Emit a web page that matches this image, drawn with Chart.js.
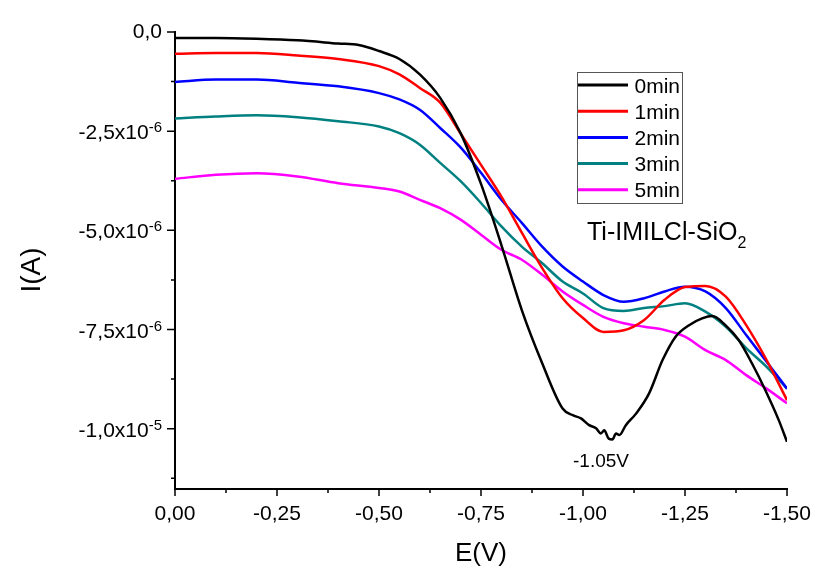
<!DOCTYPE html>
<html>
<head>
<meta charset="utf-8">
<script src="https://cdn.jsdelivr.net/npm/chart.js@4.4.1/dist/chart.umd.min.js"></script>
<style>
    html, body { margin: 0; padding: 0; background: #fff; }
    #wrap { width: 816px; height: 568px; position: relative; }
</style>
</head>
<body>
<div id="wrap"><canvas id="chart"></canvas></div>
<script>
// potentials in V, currents in microamps
const potential = [0, -0.1, -0.2, -0.3, -0.4, -0.5, -0.55, -0.6, -0.65, -0.7, -0.75, -0.8, -0.85,
    -0.9, -0.95, -1.0, -1.05, -1.1, -1.15, -1.2, -1.25, -1.3, -1.35, -1.4, -1.45, -1.5];
const current1min = [-0.55, -0.53, -0.53, -0.59, -0.68, -0.86, -1.07, -1.41, -1.78, -2.56, -3.35, -4.15, -5.06,
    -5.95, -6.71, -7.21, -7.56, -7.52, -7.26, -6.75, -6.43, -6.40, -6.67, -7.39, -8.27, -9.28];
const current2min = [-1.26, -1.20, -1.20, -1.28, -1.37, -1.54, -1.70, -1.96, -2.42, -2.91, -3.55, -4.23, -4.81,
    -5.41, -5.91, -6.29, -6.63, -6.80, -6.71, -6.54, -6.42, -6.54, -6.96, -7.64, -8.31, -8.99];
const current3min = [-2.18, -2.13, -2.10, -2.15, -2.25, -2.38, -2.55, -2.84, -3.30, -3.76, -4.31, -4.90, -5.41,
    -5.83, -6.29, -6.59, -6.96, -7.03, -6.96, -6.91, -6.84, -7.05, -7.43, -7.97, -8.44, -8.99];
const current5min = [-3.70, -3.60, -3.56, -3.64, -3.81, -3.93, -4.02, -4.23, -4.44, -4.73, -5.11, -5.49, -5.74,
    -6.12, -6.54, -6.88, -7.18, -7.34, -7.43, -7.51, -7.68, -8.02, -8.27, -8.65, -8.99, -9.36];

// the 0 min scan is noisier near its minimum, so it has its own potentials
const potential0min = [0, -0.1, -0.2, -0.3, -0.4, -0.45, -0.5, -0.55, -0.6, -0.65, -0.7, -0.75, -0.8, -0.85,
    -0.9, -0.95, -0.975, -0.995, -1.015, -1.032, -1.044, -1.052, -1.063, -1.072, -1.081, -1.089, -1.105,
    -1.13, -1.162, -1.195, -1.227, -1.26, -1.292, -1.317, -1.349, -1.382, -1.414, -1.447, -1.48, -1.5];
const current0min = [-0.15, -0.15, -0.17, -0.21, -0.29, -0.33, -0.48, -0.68, -1.07, -1.66, -2.55, -3.83, -5.37, -7.01,
    -8.35, -9.49, -9.66, -9.74, -9.91, -9.99, -10.12, -10.04, -10.25, -10.27, -10.12, -10.16, -9.91,
    -9.62, -9.11, -8.27, -7.68, -7.39, -7.22, -7.16, -7.39, -7.77, -8.35, -9.03, -9.79, -10.33];

const seriesLabels = ['0min', '1min', '2min', '3min', '5min'];
const seriesColors = ['#000000', '#ff0000', '#0000ff', '#008080', '#ff00ff'];

const xMajorTicks = [0, -0.25, -0.5, -0.75, -1.0, -1.25, -1.5];
const xMinorTicks = [-0.125, -0.375, -0.625, -0.875, -1.125, -1.375];
const xTickLabels = ['0,00', '-0,25', '-0,50', '-0,75', '-1,00', '-1,25', '-1,50'];
const yMajorTicks = [0, -2.5e-6, -5e-6, -7.5e-6, -1e-5];
const yMinorTicks = [-1.25e-6, -3.75e-6, -6.25e-6, -8.75e-6, -1.125e-5];
const yTickBases = ['0,0', '-2,5x10', '-5,0x10', '-7,5x10', '-1,0x10'];
const yTickExponents = ['', '-6', '-6', '-6', '-5'];

const FONT = '"Liberation Sans", Arial, sans-serif';

function toPoints(xs, ys) {
    return xs.map((x, i) => ({ x: x, y: ys[i] * 1e-6 }));
}

const seriesData = [
    toPoints(potential0min, current0min),
    toPoints(potential, current1min),
    toPoints(potential, current2min),
    toPoints(potential, current3min),
    toPoints(potential, current5min),
];

const decorPlugin = {
    id: 'decor',
    afterDraw(chart) {
        const ctx = chart.ctx;
        const xs = chart.scales.x;
        const ys = chart.scales.y;
        const area = chart.chartArea;

        ctx.save();
        ctx.strokeStyle = '#000';
        ctx.fillStyle = '#000';
        ctx.lineWidth = 1.5;

        // tick marks, pointing outwards
        ctx.beginPath();
        xMajorTicks.forEach((v) => {
            const px = xs.getPixelForValue(v);
            ctx.moveTo(px, area.bottom);
            ctx.lineTo(px, area.bottom + 7);
        });
        xMinorTicks.forEach((v) => {
            const px = xs.getPixelForValue(v);
            ctx.moveTo(px, area.bottom);
            ctx.lineTo(px, area.bottom + 4);
        });
        yMajorTicks.forEach((v) => {
            const py = ys.getPixelForValue(v);
            ctx.moveTo(area.left, py);
            ctx.lineTo(area.left - 8, py);
        });
        yMinorTicks.forEach((v) => {
            const py = ys.getPixelForValue(v);
            ctx.moveTo(area.left, py);
            ctx.lineTo(area.left - 4, py);
        });
        ctx.stroke();

        // x tick labels
        ctx.font = `21px ${FONT}`;
        ctx.textAlign = 'center';
        ctx.textBaseline = 'alphabetic';
        xMajorTicks.forEach((v, i) => {
            ctx.fillText(xTickLabels[i], xs.getPixelForValue(v), area.bottom + 31);
        });

        // y tick labels with raised exponents
        const labelRight = 162;
        yMajorTicks.forEach((v, i) => {
            const py = ys.getPixelForValue(v);
            ctx.textAlign = 'right';
            if (yTickExponents[i] === '') {
                ctx.font = `21px ${FONT}`;
                ctx.fillText(yTickBases[i], labelRight, py + 6);
                return;
            }
            ctx.font = `15px ${FONT}`;
            const expWidth = ctx.measureText(yTickExponents[i]).width;
            ctx.fillText(yTickExponents[i], labelRight, py + 1);
            ctx.font = `21px ${FONT}`;
            ctx.fillText(yTickBases[i], labelRight - expWidth, py + 8);
        });

        // axis titles
        ctx.font = `26px ${FONT}`;
        ctx.textAlign = 'center';
        ctx.fillText('E(V)', 481, 561);
        ctx.save();
        ctx.translate(40, 270);
        ctx.rotate(-Math.PI / 2);
        ctx.font = `28px ${FONT}`;
        ctx.fillText('I(A)', 0, 0);
        ctx.restore();

        // legend box
        const box = { left: 577, top: 72, right: 682, bottom: 203 };
        ctx.lineWidth = 1;
        ctx.strokeStyle = '#555';
        ctx.strokeRect(box.left + 0.5, box.top + 0.5, box.right - box.left, box.bottom - box.top);
        ctx.font = `21px ${FONT}`;
        ctx.textAlign = 'right';
        chart.data.datasets.forEach((ds, i) => {
            const rowY = 85 + i * 26.2;
            ctx.strokeStyle = ds.borderColor;
            ctx.lineWidth = 3;
            ctx.beginPath();
            ctx.moveTo(578, rowY);
            ctx.lineTo(628, rowY);
            ctx.stroke();
            ctx.fillStyle = '#000';
            ctx.fillText(ds.label, 680, rowY + 7.5);
        });

        // annotations
        ctx.textAlign = 'left';
        ctx.font = `25px ${FONT}`;
        const annot = 'Ti-IMILCl-SiO';
        ctx.fillText(annot, 587, 240);
        const annotWidth = ctx.measureText(annot).width;
        ctx.font = `16px ${FONT}`;
        ctx.fillText('2', 587 + annotWidth, 248);

        ctx.font = `19px ${FONT}`;
        ctx.textAlign = 'center';
        ctx.fillText('-1.05V', 601, 467);

        ctx.restore();
    },
};

new Chart(document.getElementById('chart'), {
    type: 'line',
    data: {
        datasets: seriesData.map((points, i) => ({
            label: seriesLabels[i],
            data: points,
            borderColor: seriesColors[i],
            backgroundColor: seriesColors[i],
            borderWidth: 2.5,
            pointRadius: 0,
            cubicInterpolationMode: 'monotone',
            fill: false,
        })),
    },
    options: {
        responsive: true,
        maintainAspectRatio: false,
        animation: false,
        layout: {
            padding: { left: 0, right: 29, top: 32, bottom: 0 },
        },
        plugins: {
            legend: { display: false },
            tooltip: { enabled: false },
        },
        scales: {
            x: {
                type: 'linear',
                min: -1.5,
                max: 0,
                reverse: true,
                ticks: { display: false },
                grid: { display: false },
                border: { display: true, color: '#000', width: 2 },
                afterFit: (scale) => {
                    scale.height = 79;
                },
            },
            y: {
                type: 'linear',
                min: -1.152e-5,
                max: 0,
                ticks: { display: false },
                grid: { display: false },
                border: { display: true, color: '#000', width: 2 },
                afterFit: (scale) => {
                    scale.width = 175;
                },
            },
        },
    },
    plugins: [decorPlugin],
});
</script>
</body>
</html>
